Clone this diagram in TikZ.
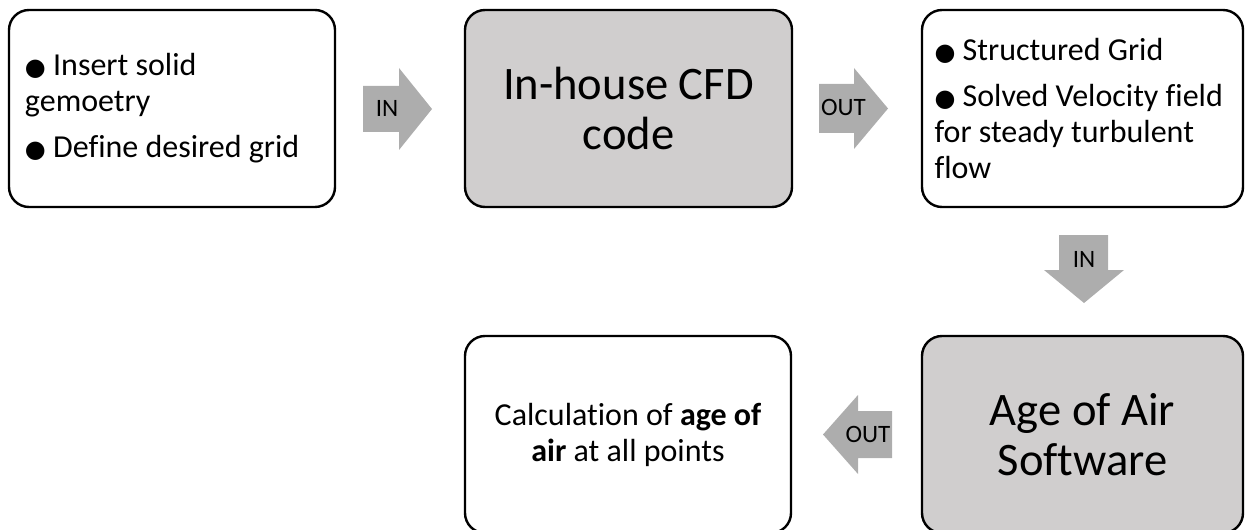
\documentclass[tikz,border=0pt]{standalone}
\usepackage{fontspec}
\setmainfont{Carlito}[Ligatures={NoCommon}]
\newfontfamily\symfam{DejaVu Sans}
\usepackage{tikz}
\definecolor{boxgray}{HTML}{D0CECE}
\definecolor{arrowgray}{HTML}{ADADAD}
\newcommand{\bul}{{\symfam\fontsize{12}{12}\selectfont ●}}
\tikzset{
	stagebox/.style={draw, line width=1.2pt, rounded corners=10pt, minimum width=163pt, minimum height=98.5pt},
	listbox/.style={stagebox, align=flush left, inner xsep=8pt, font=\fontsize{16}{18}\selectfont},
	toolbox/.style={stagebox, fill=boxgray, align=center, font=\fontsize{23.3}{25}\selectfont},
	blockarrow/.style={fill=arrowgray},
	arrowlbl/.style={font=\fontsize{12.5}{14}\selectfont, inner sep=0pt}
}

\begin{document}
\begin{tikzpicture}[x=0.5pt,y=-0.5pt]
	\clip (0,0) rectangle (1245,529);

	% top row
	\node[listbox, text width=147pt] (geom) at (172,108.5) {\bul\ Insert solid\\gemoetry\\[5pt]\bul\ Define desired grid};
	\node[toolbox, minimum width=163.5pt] (cfd) at (628.5,108.5) {In-house CFD\\code};
	\node[listbox, text width=148pt, inner xsep=6.25pt, minimum width=160.5pt] (grid) at (1082.5,108.5) {\bul\ Structured Grid\\[5pt]\bul\ Solved Velocity field\\for steady turbulent\\flow};

	% bottom row
	\node[toolbox, minimum width=160.5pt] (aoa) at (1082.5,434.5) {Age of Air\\Software};
	\node[stagebox, align=center, font=\fontsize{16}{18}\selectfont] (calc) at (628,434.5) {Calculation of \textbf{age of}\\\textbf{air} at all points};

	% block arrows
	\fill[blockarrow] (363,86) -- (399,86) -- (399,68) -- (432,109) -- (399,150) -- (399,132) -- (363,132) -- cycle;
	\node[arrowlbl] (inA) at (387,108) {IN};

	\fill[blockarrow] (819,84) -- (854,84) -- (854,68) -- (888,108.5) -- (854,149) -- (854,133) -- (819,133) -- cycle;
	\node[arrowlbl] (outA) at (843.5,107) {OUT};

	\fill[blockarrow] (1059,235) -- (1108,235) -- (1108,270) -- (1124,270) -- (1084,303) -- (1044,270) -- (1059,270) -- cycle;
	\node[arrowlbl] (inB) at (1084,259) {IN};

	\fill[blockarrow] (892,411) -- (858,411) -- (858,395) -- (823,434.5) -- (858,474) -- (858,458) -- (892,458) -- cycle;
	\node[arrowlbl] (outB) at (868,434) {OUT};
\end{tikzpicture}
\end{document}
